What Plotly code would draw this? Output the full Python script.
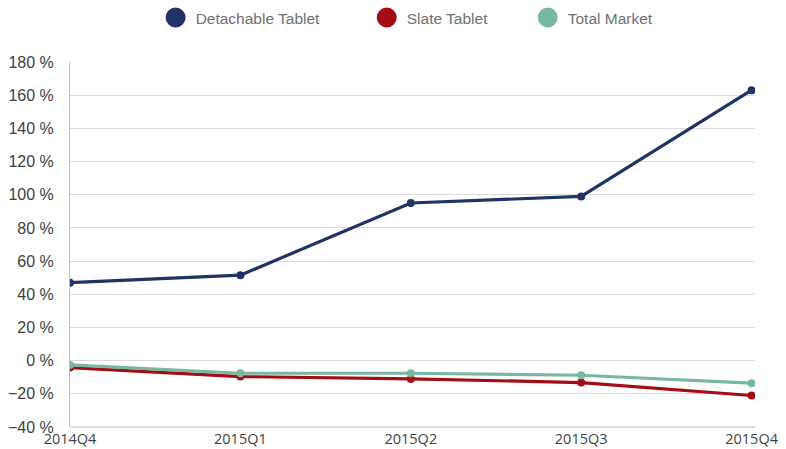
import plotly.graph_objects as go

quarters = ["2014Q4", "2015Q1", "2015Q2", "2015Q3", "2015Q4"]
detachable = [47, 51.5, 95, 99, 163]
slate = [-4.2, -9.6, -11, -13.2, -21]
total = [-2.6, -7.6, -7.6, -8.8, -13.6]

series_names = ["Detachable Tablet", "Slate Tablet", "Total Market"]
colors = ["#1f3464", "#a30d14", "#79b8a0"]
series = [detachable, slate, total]
legend_ids = ["legend", "legend2", "legend3"]
legend_x = [0.192, 0.4606, 0.6654]

fig = go.Figure()
for name, vals, col in zip(series_names, series, colors):
    fig.add_trace(go.Scatter(x=quarters, y=vals, mode="lines+markers", name=name,
                             line=dict(color=col, width=3.2),
                             marker=dict(color=col, size=8),
                             showlegend=False))
for name, col, lid in zip(series_names, colors, legend_ids):
    fig.add_trace(go.Scatter(x=[None], y=[None], mode="markers", name=name, legend=lid,
                             marker=dict(color=col, size=16, line=dict(color=col, width=4)),
                             showlegend=True))

legend_common = dict(orientation="h", xref="container", yref="container", xanchor="left",
                     y=0.96, yanchor="middle", bgcolor="rgba(0,0,0,0)",
                     font=dict(size=15.5, color="#707070", family="Liberation Sans, Arial, sans-serif"))
layout_legends = {}
for lid, lx in zip(legend_ids, legend_x):
    layout_legends[lid] = dict(legend_common, x=lx + 0.006)

fig.update_layout(
    width=786, height=449,
    margin=dict(l=70, r=31, t=62, b=22),
    paper_bgcolor="white", plot_bgcolor="white",
    font=dict(family="Liberation Sans, Arial, sans-serif", color="#444", size=14),
    xaxis=dict(range=[0, 4.02], showgrid=False, showline=False, zeroline=False,
               ticks="", ticklabelstandoff=1, automargin=False,
               tickfont=dict(size=14.5, color="#444", family="Open Sans, sans-serif")),
    yaxis=dict(range=[-40, 180], dtick=20, ticksuffix=" %", showgrid=True,
               gridcolor="#dadada", gridwidth=1, zeroline=False, showline=True,
               linecolor="#bdbdbd", linewidth=1, ticks="", ticklabelstandoff=12,
               automargin=False, tickfont=dict(size=16, color="#404040")),
    **layout_legends,
)
fig.add_shape(type="line", xref="paper", yref="paper", x0=0, x1=1, y0=0, y1=0,
              line=dict(color="#bdbdbd", width=1))
fig.write_html("out.html")
